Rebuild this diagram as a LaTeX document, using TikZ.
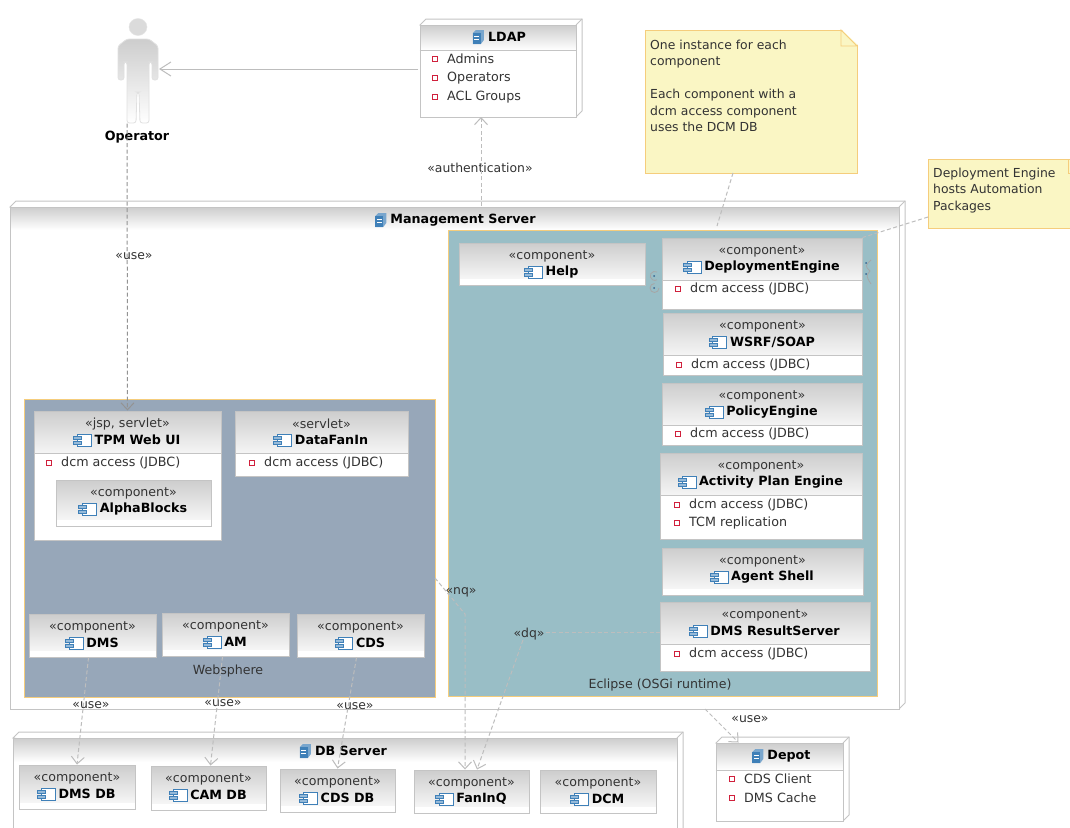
\documentclass[tikz,border=0pt]{standalone}
\usepackage{fontspec}
\setmainfont{DejaVu Sans}
\usetikzlibrary{arrows.meta,positioning}

\definecolor{boxline}{HTML}{C4C4C4}
\definecolor{hdrtop}{HTML}{CDCDCD}
\definecolor{hdrbot}{HTML}{F5F5F5}
\definecolor{eclipsefill}{HTML}{99BEC6}
\definecolor{webfill}{HTML}{97A7B9}
\definecolor{framecol}{HTML}{F5CD7C}
\definecolor{notefill}{HTML}{FAF6C4}
\definecolor{iconblue}{HTML}{3F80B8}
\definecolor{marksred}{HTML}{D0203C}
\definecolor{inktext}{HTML}{333333}
\definecolor{linkcol}{HTML}{BDBDBD}

\tikzset{
    x=1pt,y=-1pt,
    boxnode/.style={draw=boxline,fill=white,line width=1pt,inner sep=0pt},
    stereotext/.style={font=\fontsize{12.6}{14}\selectfont,text=inktext,inner sep=0pt},
    titletext/.style={font=\fontsize{12.7}{14}\selectfont\bfseries,text=black,inner sep=0pt},
    attrtext/.style={font=\fontsize{12.7}{14}\selectfont,text=inktext,anchor=west,inner sep=0pt},
    attrmark/.style={draw=marksred,fill=white,line width=1pt,minimum size=5pt,inner sep=0pt},
    looktext/.style={font=\fontsize{12.4}{16.5}\selectfont,text=inktext,align=left,anchor=north west,inner sep=0pt},
    linklabel/.style={font=\fontsize{12.4}{14}\selectfont,text=inktext,inner sep=0pt},
    uselink/.style={draw=linkcol,dash pattern=on 4pt off 2.5pt,line width=1pt,-{Straight Barb[length=7pt,width=13pt]}},
    notelink/.style={draw=linkcol,dash pattern=on 4pt off 2.5pt,line width=1pt},
    notebox/.style={draw=framecol,fill=notefill,line width=0.9pt,inner sep=0pt},
    regionbox/.style={draw=framecol,line width=0.9pt,inner sep=0pt},
    compicon/.pic={
        \draw[iconblue,fill=white,line width=0.9pt] (-4,-6) rectangle (10,6);
        \draw[iconblue,fill=iconblue!55,line width=0.6pt] (-8,-3.5) rectangle (0,-0.5);
        \draw[iconblue,fill=iconblue!55,line width=0.6pt] (-8,1) rectangle (0,4);
    },
    nodeicon/.pic={
        \fill[iconblue!70] (-4,-4) -- (-1,-7) -- (7,-7) -- (7,3) -- (4,7) -- (-4,7) -- cycle;
        \fill[iconblue] (-4,-4) rectangle (4,7);
        \draw[white,line width=0.6pt] (-2.5,-1) -- (2.5,-1) (-2.5,2) -- (2.5,2);
    },
}

% name, x1, y1, x2, y2, header bottom, stereotype, title
\newcommand{\compbox}[8]{
    \node[boxnode,minimum width={(#4-#2)*1pt},minimum height={(#5-#3)*1pt}] (#1) at ({(#2+#4)/2},{(#3+#5)/2}) {};
    \shade[top color=hdrtop,bottom color=hdrbot] (#2,#3) rectangle (#4,#6);
    \draw[boxline,line width=1pt] (#2,#3) rectangle (#4,#5);
    \node[stereotext] (#1s) at ({(#2+#4)/2},#3+13) {«#7»};
    \node[titletext] (#1t) at ({(#2+#4)/2+10},#3+29) {#8};
    \pic at ([xshift=-13pt]#1t.west) {compicon};
}
% name, x1, y1, x2, y2, header bottom
\newcommand{\depbox}[6]{
    \draw[boxline,fill=white,line width=1pt] (#2,#3) -- (#2+6,#3-6) -- (#4+6,#3-6) -- (#4+6,#5-6) -- (#4,#5) -- cycle;
    \draw[boxline,line width=1pt] (#4,#3) -- (#4+6,#3-6);
    \node[boxnode,minimum width={(#4-#2)*1pt},minimum height={(#5-#3)*1pt}] (#1) at ({(#2+#4)/2},{(#3+#5)/2}) {};
    \shade[top color=hdrtop,bottom color=white] (#2,#3) rectangle (#4,#6);
    \draw[boxline,line width=1pt] (#2,#3) rectangle (#4,#5);
}

\begin{document}
\begin{tikzpicture}

    \clip (0,0) rectangle (1070,827);
    \fill[white] (0,0) rectangle (1070,827);

    % Operator
    \node[inner sep=0pt,minimum width=40pt,minimum height=106pt] (operator) at (138,70.5) {};
    \shadedraw[top color=hdrtop,bottom color=white,draw=black!12,line width=0.8pt,rounded corners=2.5pt]
        (127,39) -- (149,39) -- (158,46) -- (158,80) -- (152,80) -- (152,62) -- (149,62) -- (149,123)
        -- (140,123) -- (139,92) -- (137,92) -- (136,123) -- (127,123) -- (127,62) -- (124,62)
        -- (124,80) -- (118,80) -- (118,46) -- cycle;
    \filldraw[fill=black!14,draw=black!10] (138,27) ellipse (9pt and 8.5pt);
    \node[titletext] (operatorname) at (137,137) {Operator};

    % LDAP
    \depbox{ldap}{420}{25}{576}{117}{50}
    \draw[boxline,line width=1pt] (ldap.west |- 0,50) -- (ldap.east |- 0,50);
    \node[titletext] (ldapt) at (507,37) {LDAP};
    \pic at ([xshift=-11pt]ldapt.west) {nodeicon};

    % Management Server
    \depbox{mgmt}{10}{207}{899}{709}{230}
    \node[titletext] (mgmtt) at (463,220) {Management Server};
    \pic at ([xshift=-11pt]mgmtt.west) {nodeicon};

    % Depot
    \depbox{depot}{716}{743}{843}{821}{770}
    \draw[boxline,line width=1pt] (depot.west |- 0,770) -- (depot.east |- 0,770);
    \node[titletext] (depott) at (789,756) {Depot};
    \pic at ([xshift=-11pt]depott.west) {nodeicon};

    % DB Server
    \depbox{dbsrv}{13}{738}{677}{835}{762}
    \node[titletext] (dbsrvt) at (351,751) {DB Server};
    \pic at ([xshift=-11pt]dbsrvt.west) {nodeicon};

    % Runtimes
    \node[regionbox,fill=eclipsefill,minimum width=429pt,minimum height=466pt] (eclipse) at (662.5,463) {};
    \node[regionbox,fill=webfill,minimum width=411pt,minimum height=298pt] (websphere) at (229.5,548) {};
    \node[stereotext] (eclipsename) at (660,685) {Eclipse (OSGi runtime)};
    \node[stereotext] (webspherename) at (228,671) {Websphere};

    % Eclipse components
    \compbox{help}{459}{243}{645}{285}{278}{component}{Help}
    \compbox{deploy}{662}{238}{862}{309}{280}{component}{DeploymentEngine}
    \compbox{wsrf}{663}{313}{862}{375}{355}{component}{WSRF/SOAP}
    \compbox{policy}{662}{383}{862}{445}{425}{component}{PolicyEngine}
    \compbox{activity}{660}{453}{862}{539}{495}{component}{Activity Plan Engine}
    \compbox{agent}{662}{548}{863}{595}{588}{component}{Agent Shell}
    \compbox{result}{660}{602}{870}{671}{644}{component}{DMS ResultServer}

    % Websphere components
    \compbox{tpm}{34}{411}{221}{540}{453}{jsp, servlet}{TPM Web UI}
    \compbox{alpha}{56}{480}{211}{526}{519}{component}{AlphaBlocks}
    \compbox{fanin}{235}{411}{408}{476}{453}{servlet}{DataFanIn}
    \compbox{dms}{29}{614}{156}{657}{650}{component}{DMS}
    \compbox{am}{162}{613}{289}{656}{649}{component}{AM}
    \compbox{cds}{297}{614}{424}{657}{650}{component}{CDS}

    % DB Server components
    \compbox{dmsdb}{19}{765}{135}{809}{802}{component}{DMS DB}
    \compbox{camdb}{151}{766}{266}{810}{803}{component}{CAM DB}
    \compbox{cdsdb}{280}{769}{395}{812}{805}{component}{CDS DB}
    \compbox{faninq}{414}{770}{529}{813}{806}{component}{FanInQ}
    \compbox{dcm}{540}{770}{656}{813}{806}{component}{DCM}

    % Compartment lines
    \foreach \nm/\yy in {deploy/280,wsrf/355,policy/425,activity/495,result/644,tpm/453,fanin/453}
        \draw[boxline,line width=1pt] (\nm.west |- 0,\yy) -- (\nm.east |- 0,\yy);

    % Attributes
    \foreach \nm/\xx/\yy/\txt in {
        la/435/59/Admins,lb/435/78/Operators,lc/435/97/ACL Groups,
        ca/678/289/dcm access (JDBC),cb/679/365/dcm access (JDBC),cc/678/434/dcm access (JDBC),
        cd/677/505/dcm access (JDBC),ce/677/523/TCM replication,cf/677/654/dcm access (JDBC),
        wa/49/463/dcm access (JDBC),wb/252/463/dcm access (JDBC),
        da/732/779/CDS Client,db/732/798/DMS Cache}
    {
        \node[attrmark] (\nm m) at (\xx,\yy) {};
        \node[attrtext] (\nm) at (\xx+12,\yy) {\txt};
    }

    % Notes
    \node[notebox,minimum width=212pt,minimum height=143pt] (bignote) at (751,101.5) {};
    \fill[white] (841,29) -- (859,29) -- (859,46) -- cycle;
    \draw[framecol,fill=notefill,line width=0.9pt] (841,30) -- (857,46) -- (841,46) -- cycle;
    \node[looktext] (bignotetext) at (650,39.5) {One instance for each\\component\\[16.5pt]Each component with a\\dcm access component\\uses the DCM DB};

    \node[notebox,minimum width=156pt,minimum height=69pt] (smallnote) at (1006,193.5) {};
    \draw[framecol,line width=0.9pt] (1068,159) -- (1068,173) -- (1084,173);
    \node[looktext] (smallnotetext) at (933,167.5) {Deployment Engine\\hosts Automation\\Packages};

    % Small ports
    \foreach \nm/\xx/\yy in {pa/654/276,pb/654/288,pc/866/263,pd/866/274}
        \node[circle,fill=iconblue!80!black,inner sep=0pt,minimum size=2pt] (\nm) at (\xx,\yy) {};
    \draw[gray!70,line width=0.8pt] (657,272) arc[start angle=60,end angle=300,radius=4.5pt];
    \draw[gray!70,line width=0.8pt] (659,288) arc[start angle=0,end angle=-270,radius=4.5pt];
    \draw[gray!70,line width=0.8pt] (871,260) .. controls (865,266) .. (870,271) .. controls (866,276) .. (871,284);

    % Connectors
    \coordinate (ldapleft) at (418,69);
    \coordinate (opright) at (159,69);
    \draw[draw=linkcol,line width=1pt,-{Straight Barb[length=11pt,width=14pt]}] (ldapleft) -- (opright);

    \node[linklabel] (uselabela) at (134,256) {«use»};
    \draw[uselink,draw=gray!85] ([xshift=-11pt]operator.south) -- (tpm.north);

    \node[linklabel] (authlabel) at (480,168) {«authentication»};
    \coordinate (ldapfoot) at (481,117);
    \coordinate (mgmttop) at (481,206);
    \draw[uselink] (mgmttop) -- (ldapfoot);

    \coordinate (bignotefoot) at (733,173);
    \coordinate (deployhead) at (717,226);
    \coordinate (smallnotefoot) at (928,217);
    \draw[notelink] (bignotefoot) -- (deployhead);
    \draw[notelink] (smallnotefoot) -- (deploy.north east);

    \node[linklabel] (uselabelb) at (91,705) {«use»};
    \node[linklabel] (uselabelc) at (223,703) {«use»};
    \node[linklabel] (uselabeld) at (355,706) {«use»};
    \node[linklabel] (uselabele) at (750,719) {«use»};
    \draw[uselink] ([xshift=-4pt]dms.south) -- (dmsdb.north);
    \draw[uselink] ([xshift=-3pt]am.south) -- ([xshift=2pt]camdb.north);
    \draw[uselink] ([xshift=-4pt]cds.south) -- (cdsdb.north);
    \coordinate (mgmtfoot) at (705,709);
    \draw[uselink] (mgmtfoot) -- ([xshift=-41pt]depot.north);

    \node[linklabel] (nqlabel) at (461,592) {«nq»};
    \coordinate (nqstart) at (435,578);
    \coordinate (nqbend) at (465,614);
    \draw[uselink] (nqstart) -- (nqbend) -- ([xshift=-6.5pt]faninq.north);

    \node[linklabel] (dqlabel) at (529,634) {«dq»};
    \coordinate (dqstart) at (660,632);
    \coordinate (dqend) at (545,632);
    \coordinate (dqfoot) at (523,640);
    \draw[notelink] (dqstart) -- (dqend);
    \draw[uselink] (dqfoot) -- ([xshift=5.5pt]faninq.north);

\end{tikzpicture}
\end{document}
